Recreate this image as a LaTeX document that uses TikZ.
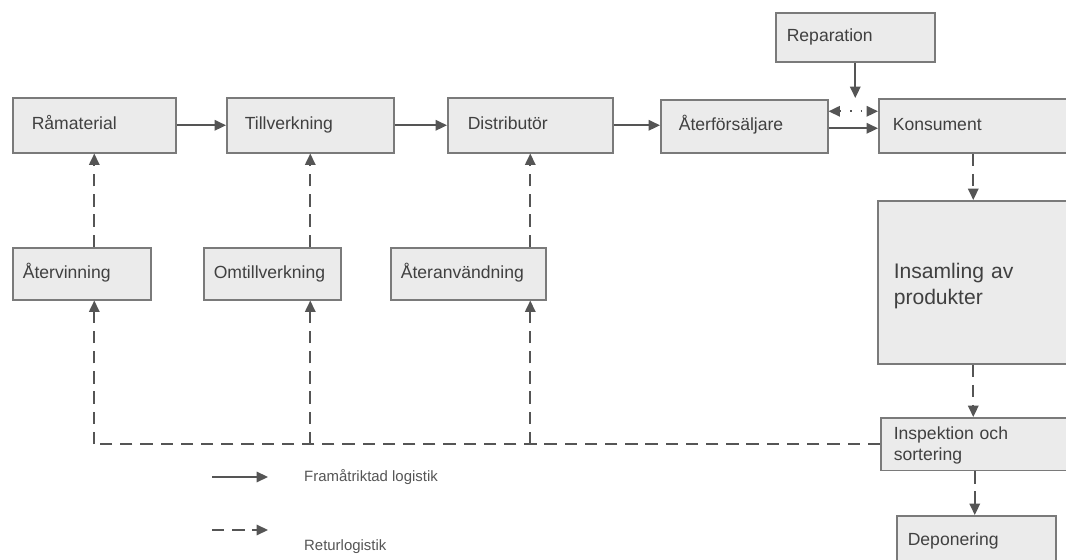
\documentclass[tikz,border=0pt]{standalone}
\usepackage{fontspec}
\setmainfont{Liberation Sans}
\usetikzlibrary{arrows.meta}

\definecolor{boxfill}{HTML}{EBEBEB}
\definecolor{boxline}{HTML}{7A7A7A}
\definecolor{arr}{HTML}{555555}
\definecolor{txt}{HTML}{404040}

\begin{document}
\begin{tikzpicture}[x=0.02cm, y=-0.02cm,
    box/.style={draw=boxline, fill=boxfill, line width=0.9pt, anchor=north west,
        align=left, text=txt, font=\fontsize{10}{12.5}\selectfont,
        execute at begin node=\strut},
    fwd/.style={draw=arr, line width=0.9pt, -{Triangle[length=6.5pt,width=6pt]}},
    retline/.style={draw=arr, line width=0.9pt, dash pattern=on 7pt off 4.5pt},
    ret/.style={retline, -{Triangle[length=6.5pt,width=6pt]}},
    legtext/.style={anchor=west, text=arr, font=\fontsize{8.5}{10}\selectfont}]

    % 1. MOLDURA (mesmo tamanho da figura de referencia)
    \useasboundingbox[fill=white] (0,0) rectangle (1066,560);

    % ==========================================
    % 2. CADEIA DIRETA (linha de cima)
    % ==========================================
    \node[box, minimum height=1.10cm, text width=2.50cm, inner xsep=0.38cm] (ram) at (12,97) {Råmaterial};
    \node[box, minimum height=1.10cm, text width=2.62cm, inner xsep=0.36cm] (till) at (226,97) {Tillverkning};
    \node[box, minimum height=1.10cm, text width=2.50cm, inner xsep=0.40cm] (dist) at (447,97) {Distributör};
    \node[box, minimum height=1.06cm, text width=2.62cm, inner xsep=0.36cm] (ater) at (660,99) {Återförsäljare};
    \node[box, minimum height=1.08cm, text width=3.24cm, inner xsep=0.28cm] (kons) at (878,98) {Konsument};
    \node[box, minimum height=0.98cm, text width=2.74cm, inner xsep=0.22cm] (rep) at (775,12) {Reparation};

    \draw[fwd] (ram.east) -- (till.west);
    \draw[fwd] (till.east) -- (dist.west);
    \draw[fwd] (dist.east) -- (dist.east -| ater.west);
    \draw[fwd] ([yshift=-0.04cm]ater.east) -- ([yshift=-0.04cm]ater.east -| kons.west);
    \draw[draw=arr, line width=0.9pt, dash pattern=on 1pt off 5pt,
        {Triangle[length=6.5pt,width=6pt]}-{Triangle[length=6.5pt,width=6pt]}]
        ([yshift=0.3cm]ater.east) -- ([yshift=0.3cm]ater.east -| kons.west);
    \draw[fwd] (rep.south) -- (rep.south |- kons.north);

    % ==========================================
    % 3. CADEIA REVERSA (lado direito)
    % ==========================================
    \node[box, minimum height=3.26cm, text width=3.18cm, inner xsep=0.32cm,
        font=\fontsize{12}{14.5}\selectfont] (ins) at (877,200) {\rule{0pt}{0.45cm}Insamling av\\produkter};
    \node[box, minimum height=1.04cm, text width=3.24cm, inner xsep=0.26cm] (insp) at (880,417) {Inspektion och\\sortering};
    \node[box, minimum height=1.00cm, text width=2.74cm, inner xsep=0.22cm] (dep) at (896,515) {Deponering};

    \draw[ret] (ins.north |- kons.south) -- (ins.north);
    \draw[ret] (ins.south) -- (ins.south |- insp.north);
    \draw[ret] (insp.south) -- (insp.south |- dep.north);

    % ==========================================
    % 4. RECUPERACAO (linha do meio)
    % ==========================================
    \node[box, minimum height=1.04cm, text width=2.36cm, inner xsep=0.20cm] (aterv) at (12,247) {Återvinning};
    \node[box, minimum height=1.04cm, text width=2.34cm, inner xsep=0.20cm] (omt) at (203,247) {Omtillverkning};
    \node[box, minimum height=1.04cm, text width=2.70cm, inner xsep=0.20cm] (ateranv) at (390,247) {Återanvändning};

    \coordinate (j1) at (ram.south |- insp.west);
    \coordinate (j2) at (till.south |- insp.west);
    \coordinate (j3) at (dist.south |- insp.west);

    \draw[retline] (insp.west) -- (j1);
    \draw[ret] (j1) -- (j1 |- aterv.south);
    \draw[ret] (j2) -- (j2 |- omt.south);
    \draw[ret] (j3) -- (j3 |- ateranv.south);
    \draw[ret] (ram.south |- aterv.north) -- (ram.south);
    \draw[ret] (till.south |- omt.north) -- (till.south);
    \draw[ret] (dist.south |- ateranv.north) -- (dist.south);

    % ==========================================
    % 5. LEGENDA
    % ==========================================
    \node[legtext] (fwtext) at (298,477) {Framåtriktad logistik};
    \node[legtext] (rettext) at (298,547) {Returlogistik};
    \coordinate (fwa) at (212,477);
    \coordinate (fwb) at (268,477);
    \coordinate (reta) at (212,530);
    \coordinate (retb) at (268,530);
    \draw[fwd] (fwa) -- (fwb);
    \draw[ret] (reta) -- (retb);
\end{tikzpicture}
\end{document}
